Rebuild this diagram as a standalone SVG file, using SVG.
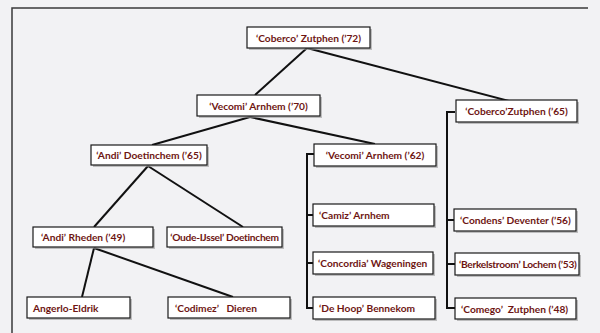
<svg xmlns="http://www.w3.org/2000/svg" width="600" height="333" viewBox="0 0 600 333">
<style>
.bg{fill:#f2f2f4}
.frame{stroke:#3a3a3a;stroke-width:1.5;fill:none}
.sh{fill:#9a9a9a;opacity:0.6}
.box{fill:#ffffff;stroke:#1a1a1a;stroke-width:1.2}
.t{font-family:Lato,"Open Sans",sans-serif;font-weight:bold;font-size:10.2px;fill:#6e1512;dominant-baseline:central}
.n{letter-spacing:-0.3px}
.c{stroke:#111;stroke-width:2;fill:none}
</style>
<rect class="bg" x="0" y="0" width="600" height="333"/>
<path class="frame" d="M12,333 V8 H588"/>
<g id="connectors">
<path class="c" d="M307,48 L255,95"/>
<path class="c" d="M307,48 L513,102"/>
<path class="c" d="M250,117 L152,145"/>
<path class="c" d="M250,117 L375,144"/>
<path class="c" d="M148,166 L94,227"/>
<path class="c" d="M148,166 L243,227"/>
<path class="c" d="M94,248 L82,297"/>
<path class="c" d="M94,248 L233,297"/>
<path class="c" d="M314,154 H307 V308 H313 M307,215 H313 M307,263 H313"/>
<path class="c" d="M455,112 H447 V308 H455 M447,220 H454 M447,264 H455"/>
</g>
<g id="n1"><rect class="sh" x="249" y="29" width="123" height="21"/><rect class="box" x="247" y="27" width="123" height="21"/><text class="t" x="308.5" y="37.5" text-anchor="middle">‘Coberco’ Zutphen (’72)</text></g>
<g id="n2"><rect class="sh" x="199" y="97" width="123" height="21"/><rect class="box" x="197" y="95" width="123" height="21"/><text class="t" x="258.5" y="105.5" text-anchor="middle">‘Vecomi’ Arnhem (’70)</text></g>
<g id="n3"><rect class="sh" x="93" y="147" width="116" height="20"/><rect class="box" x="91" y="145" width="116" height="20"/><text class="t" x="149" y="155" text-anchor="middle">‘Andi’ Doetinchem (’65)</text></g>
<g id="n4"><rect class="sh" x="458" y="102" width="121" height="22"/><rect class="box" x="456" y="100" width="121" height="22"/><text class="t" x="516.5" y="111" text-anchor="middle">‘Coberco’Zutphen (’65)</text></g>
<g id="n5"><rect class="sh" x="316" y="146" width="122" height="22"/><rect class="box" x="314" y="144" width="122" height="22"/><text class="t" x="375" y="155" text-anchor="middle">‘Vecomi’ Arnhem (’62)</text></g>
<g id="n6"><rect class="sh" x="35" y="229" width="120" height="20"/><rect class="box" x="33" y="227" width="120" height="20"/><text class="t" x="41" y="237">‘Andi’ Rheden (’49)</text></g>
<g id="n7"><rect class="sh" x="169" y="229" width="115" height="20"/><rect class="box" x="167" y="227" width="115" height="20"/><text class="t n" x="224.5" y="237" text-anchor="middle">‘Oude-IJssel’ Doetinchem</text></g>
<g id="n8"><rect class="sh" x="29" y="299" width="103" height="21"/><rect class="box" x="27" y="297" width="103" height="21"/><text class="t" x="33" y="307.5">Angerlo-Eldrik</text></g>
<g id="n9"><rect class="sh" x="170" y="299" width="122" height="21"/><rect class="box" x="168" y="297" width="122" height="21"/><text class="t" x="175" y="307.5" xml:space="preserve">‘Codimez’   Dieren</text></g>
<g id="n10"><rect class="sh" x="315" y="206" width="121" height="22"/><rect class="box" x="313" y="204" width="121" height="22"/><text class="t" x="319" y="215">‘Camiz’ Arnhem</text></g>
<g id="n11"><rect class="sh" x="315" y="254" width="120" height="22"/><rect class="box" x="313" y="252" width="120" height="22"/><text class="t" x="318" y="263">‘Concordia’ Wageningen</text></g>
<g id="n12"><rect class="sh" x="315" y="299" width="122" height="22"/><rect class="box" x="313" y="297" width="122" height="22"/><text class="t" x="319" y="308">‘De Hoop’ Bennekom</text></g>
<g id="n13"><rect class="sh" x="456" y="211" width="122" height="22"/><rect class="box" x="454" y="209" width="122" height="22"/><text class="t" x="460" y="220">‘Condens’ Deventer (’56)</text></g>
<g id="n14"><rect class="sh" x="457" y="255" width="124" height="22"/><rect class="box" x="455" y="253" width="124" height="22"/><text class="t n" x="459" y="264">‘Berkelstroom’ Lochem (’53)</text></g>
<g id="n15"><rect class="sh" x="457" y="300" width="121" height="21"/><rect class="box" x="455" y="298" width="121" height="21"/><text class="t" x="461" y="308.5" xml:space="preserve">‘Comego’  Zutphen (’48)</text></g>
</svg>
